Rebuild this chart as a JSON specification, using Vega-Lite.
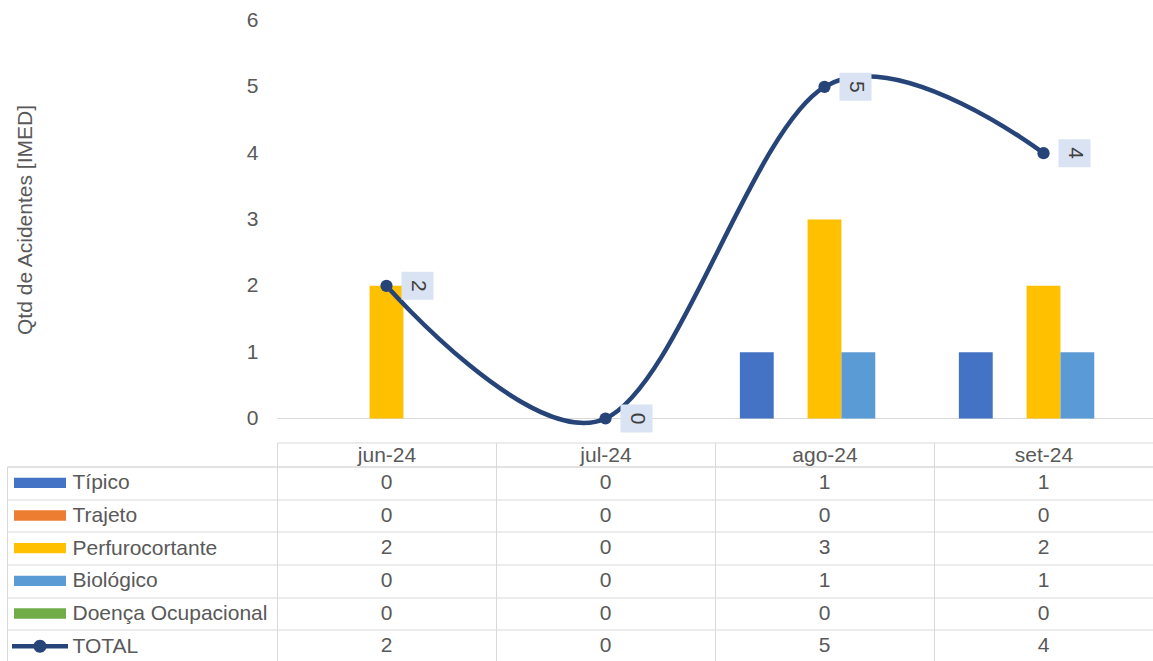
{
  "$schema": "https://vega.github.io/schema/vega-lite/v6.json",
  "background": "white",
  "padding": {"left": 6, "top": 9.5, "right": 0, "bottom": 0},
  "config": {"font": "Liberation Sans", "view": {"stroke": null}},
  "datasets": {
    "rows": [
      {"month": "jun-24", "series": "Típico", "value": 0},
      {"month": "jun-24", "series": "Trajeto", "value": 0},
      {"month": "jun-24", "series": "Perfurocortante", "value": 2},
      {"month": "jun-24", "series": "Biológico", "value": 0},
      {"month": "jun-24", "series": "Doença Ocupacional", "value": 0},
      {"month": "jun-24", "series": "TOTAL", "value": 2},
      {"month": "jul-24", "series": "Típico", "value": 0},
      {"month": "jul-24", "series": "Trajeto", "value": 0},
      {"month": "jul-24", "series": "Perfurocortante", "value": 0},
      {"month": "jul-24", "series": "Biológico", "value": 0},
      {"month": "jul-24", "series": "Doença Ocupacional", "value": 0},
      {"month": "jul-24", "series": "TOTAL", "value": 0},
      {"month": "ago-24", "series": "Típico", "value": 1},
      {"month": "ago-24", "series": "Trajeto", "value": 0},
      {"month": "ago-24", "series": "Perfurocortante", "value": 3},
      {"month": "ago-24", "series": "Biológico", "value": 1},
      {"month": "ago-24", "series": "Doença Ocupacional", "value": 0},
      {"month": "ago-24", "series": "TOTAL", "value": 5},
      {"month": "set-24", "series": "Típico", "value": 1},
      {"month": "set-24", "series": "Trajeto", "value": 0},
      {"month": "set-24", "series": "Perfurocortante", "value": 2},
      {"month": "set-24", "series": "Biológico", "value": 1},
      {"month": "set-24", "series": "Doença Ocupacional", "value": 0},
      {"month": "set-24", "series": "TOTAL", "value": 4}
    ]
  },
  "columns": 2,
  "spacing": {"row": 24, "column": 0},
  "bounds": "flush",
  "align": "each",
  "concat": [
    {
      "width": 270,
      "height": 422,
      "data": {"values": [{"blank": ""}]},
      "mark": {"type": "text"},
      "encoding": {"text": {"field": "blank", "type": "nominal"}}
    },
    {
      "width": 876,
      "height": 422,
      "data": {"name": "rows"},
      "layer": [
        {
          "data": {"values": [{"v": 0}]},
          "mark": {"type": "rule", "color": "#d9d9d9", "strokeWidth": 1},
          "encoding": {"y": {"field": "v", "type": "quantitative"}}
        },
        {
          "transform": [{"filter": "datum.series !== 'TOTAL'"}],
          "mark": {"type": "bar"},
          "encoding": {
            "x": {
              "field": "month", "type": "nominal", "title": null,
              "scale": {"type": "band", "domain": ["jun-24", "jul-24", "ago-24", "set-24"], "paddingInner": 0, "paddingOuter": 0},
              "axis": {"orient": "bottom", "labelAngle": 0, "labelFontSize": 21, "labelColor": "#595959", "labelBaseline": "middle", "labelPadding": -11, "ticks": true, "tickBand": "extent", "tickSize": 24, "tickColor": "#d9d9d9", "tickWidth": 1, "domain": true, "domainColor": "#d9d9d9", "domainWidth": 1, "grid": false}
            },
            "xOffset": {
              "field": "series", "type": "nominal",
              "scale": {"domain": ["Típico", "Trajeto", "Perfurocortante", "Biológico", "Doença Ocupacional"], "paddingInner": 0, "paddingOuter": 0.735}
            },
            "y": {
              "field": "value", "type": "quantitative", "title": "Qtd de Acidentes [IMED]",
              "scale": {"domain": [0, 6], "range": [398, 0], "nice": false, "zero": true},
              "axis": {"values": [0, 1, 2, 3, 4, 5, 6], "format": "d", "ticks": false, "domain": false, "grid": false, "labelFontSize": 21, "labelColor": "#595959", "labelPadding": 19, "titleFontSize": 21, "titleColor": "#595959", "titleFontWeight": "normal", "titlePadding": 211}
            },
            "color": {
              "field": "series", "type": "nominal", "legend": null,
              "scale": {"domain": ["Típico", "Trajeto", "Perfurocortante", "Biológico", "Doença Ocupacional", "TOTAL"], "range": ["#4472C4", "#ED7D31", "#FFC000", "#5B9BD5", "#70AD47", "#264478"]}
            }
          }
        },
        {
          "transform": [{"filter": "datum.series === 'TOTAL'"}],
          "mark": {"type": "line", "interpolate": "cardinal", "strokeWidth": 4.5, "color": "#264478"},
          "encoding": {
            "x": {"field": "month", "type": "nominal"},
            "y": {"field": "value", "type": "quantitative"}
          }
        },
        {
          "transform": [{"filter": "datum.series === 'TOTAL'"}],
          "mark": {"type": "point", "filled": true, "opacity": 1, "size": 150, "color": "#264478"},
          "encoding": {
            "x": {"field": "month", "type": "nominal"},
            "y": {"field": "value", "type": "quantitative"}
          }
        },
        {
          "transform": [{"filter": "datum.series === 'TOTAL'"}],
          "mark": {"type": "point", "filled": true, "opacity": 1, "size": 1024, "shape": "M-1,-0.875H1V0.875H-1Z", "color": "#DAE3F3", "xOffset": 31},
          "encoding": {
            "x": {"field": "month", "type": "nominal"},
            "y": {"field": "value", "type": "quantitative"}
          }
        },
        {
          "transform": [{"filter": "datum.series === 'TOTAL'"}],
          "mark": {"type": "text", "angle": 90, "fontSize": 21, "color": "#404040", "align": "center", "baseline": "middle", "xOffset": 31},
          "encoding": {
            "x": {"field": "month", "type": "nominal"},
            "y": {"field": "value", "type": "quantitative"},
            "text": {"field": "value", "type": "quantitative"}
          }
        }
      ]
    },
    {
      "width": 270,
      "height": 196,
      "view": {"stroke": "#d9d9d9"},
      "data": {"name": "rows"},
      "transform": [{"filter": "datum.month === 'jun-24'"}],
      "mark": {"type": "point", "filled": true, "opacity": 1, "size": 2704, "xOffset": -102},
      "encoding": {
        "y": {
          "field": "series", "type": "nominal", "title": null,
          "scale": {"type": "band", "domain": ["Típico", "Trajeto", "Perfurocortante", "Biológico", "Doença Ocupacional", "TOTAL"], "paddingInner": 0, "paddingOuter": 0},
          "axis": {"grid": true, "tickBand": "extent", "gridColor": "#d9d9d9", "labels": false, "ticks": false, "domain": false}
        },
        "shape": {
          "field": "series", "type": "nominal", "legend": null,
          "scale": {"domain": ["Típico", "Trajeto", "Perfurocortante", "Biológico", "Doença Ocupacional", "TOTAL"], "range": ["M-1,-0.2H1V0.2H-1Z", "M-1,-0.2H1V0.2H-1Z", "M-1,-0.2H1V0.2H-1Z", "M-1,-0.2H1V0.2H-1Z", "M-1,-0.2H1V0.2H-1Z", "M-1.077,-0.087H1.077V0.087H-1.077Z M-0.25,0A0.25,0.25,0,1,1,0.25,0A0.25,0.25,0,1,1,-0.25,0Z"]}
        },
        "color": {
          "field": "series", "type": "nominal", "legend": null,
          "scale": {"domain": ["Típico", "Trajeto", "Perfurocortante", "Biológico", "Doença Ocupacional", "TOTAL"], "range": ["#4472C4", "#ED7D31", "#FFC000", "#5B9BD5", "#70AD47", "#264478"]}
        }
      }
    },
    {
      "width": 876,
      "height": 196,
      "view": {"stroke": "#d9d9d9"},
      "data": {"name": "rows"},
      "mark": {"type": "text", "fontSize": 21, "color": "#595959", "align": "center", "baseline": "middle"},
      "encoding": {
        "x": {
          "field": "month", "type": "nominal", "title": null,
          "scale": {"type": "band", "domain": ["jun-24", "jul-24", "ago-24", "set-24"], "paddingInner": 0, "paddingOuter": 0},
          "axis": {"grid": true, "tickBand": "extent", "gridColor": "#d9d9d9", "labels": false, "ticks": false, "domain": false}
        },
        "y": {
          "field": "series", "type": "nominal", "title": null,
          "scale": {"type": "band", "domain": ["Típico", "Trajeto", "Perfurocortante", "Biológico", "Doença Ocupacional", "TOTAL"], "paddingInner": 0, "paddingOuter": 0},
          "axis": {"grid": true, "tickBand": "extent", "gridColor": "#d9d9d9", "labelAlign": "left", "labelPadding": 205, "labelLimit": 0, "labelFontSize": 21, "labelColor": "#595959", "ticks": false, "domain": false}
        },
        "text": {"field": "value", "type": "quantitative"}
      }
    }
  ]
}
